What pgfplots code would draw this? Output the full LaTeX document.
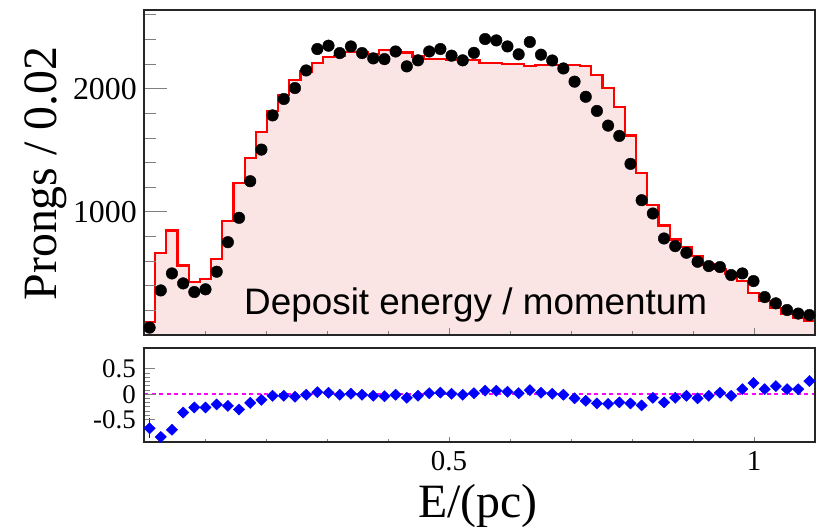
\documentclass[border=0pt]{standalone}
\usepackage{fontspec}
\setmainfont{Liberation Serif}
\newfontfamily\arialfont{Liberation Sans}
\usepackage{pgfplots}
\pgfplotsset{compat=1.18}
\usepackage{pgfplotstable}

\definecolor{histfill}{RGB}{250,228,228}
\definecolor{ratioblue}{RGB}{0,0,255}
\definecolor{zeroline}{RGB}{255,0,255}

% MC histogram: left bin edges (60 bins from 0 to 1.1) and contents
\pgfplotstableread{
x h
0.00000 105
0.01833 668
0.03667 849
0.05500 565
0.07333 430
0.09167 457
0.11000 619
0.12833 925
0.14667 1236
0.16500 1439
0.18333 1652
0.20167 1817
0.22000 1952
0.23833 2071
0.25667 2141
0.27500 2209
0.29333 2258
0.31167 2268
0.33000 2299
0.34833 2299
0.36667 2285
0.38500 2317
0.40333 2317
0.42167 2295
0.44000 2263
0.45833 2242
0.47667 2242
0.49500 2236
0.51333 2231
0.53167 2231
0.55000 2209
0.56833 2209
0.58667 2201
0.60500 2201
0.62333 2182
0.64167 2195
0.66000 2195
0.67833 2195
0.69667 2193
0.71500 2182
0.73333 2114
0.75167 2006
0.77000 1852
0.78833 1620
0.80667 1317
0.82500 1054
0.84333 890
0.86167 776
0.88000 717
0.89833 641
0.91667 573
0.93500 538
0.95333 500
0.97167 438
0.99000 338
1.00833 276
1.02667 222
1.04500 168
1.06333 135
1.08167 114
1.10000 114
}\hist

% data points and ratio at bin centres
\pgfplotstableread{
x d r
0.00917 60 -0.67
0.02750 362 -0.84
0.04583 500 -0.70
0.06417 419 -0.36
0.08250 349 -0.26
0.10083 371 -0.26
0.11917 514 -0.20
0.13750 754 -0.23
0.15583 952 -0.30
0.17417 1249 -0.17
0.19250 1506 -0.11
0.21083 1784 -0.03
0.22917 1917 -0.03
0.24750 2006 -0.05
0.26583 2149 -0.01
0.28417 2323 0.04
0.30250 2350 0.03
0.32083 2290 -0.01
0.33917 2344 0.01
0.35750 2290 -0.01
0.37583 2247 -0.03
0.39417 2241 -0.04
0.41250 2303 -0.01
0.43083 2182 -0.07
0.44917 2231 -0.03
0.46750 2303 0.02
0.48583 2323 0.03
0.50417 2269 0.01
0.52250 2231 -0.01
0.54083 2292 0.02
0.55917 2404 0.07
0.57750 2393 0.07
0.59583 2344 0.05
0.61417 2280 0.02
0.63250 2380 0.08
0.65083 2277 0.03
0.66917 2230 0.01
0.68750 2165 -0.01
0.70583 2058 -0.08
0.72417 1935 -0.13
0.74250 1820 -0.18
0.76083 1701 -0.19
0.77917 1617 -0.16
0.79750 1390 -0.18
0.81583 1095 -0.22
0.83417 987 -0.07
0.85250 784 -0.16
0.87083 722 -0.07
0.88917 668 -0.03
0.90750 595 -0.08
0.92583 560 -0.03
0.94417 552 0.03
0.96250 487 -0.03
0.98083 500 0.10
0.99917 438 0.22
1.01750 308 0.10
1.03583 257 0.16
1.05417 203 0.10
1.07250 174 0.10
1.09083 162 0.26
}\pts

\begin{document}
\begin{tikzpicture}
\useasboundingbox (0bp,0bp) rectangle (825bp,527bp);

% ---------------- upper panel ----------------
\begin{axis}[
  at={(144bp,192bp)}, anchor=south west,
  scale only axis, width=671bp, height=325bp,
  xmin=0, xmax=1.1, ymin=0, ymax=2640,
  axis on top,
  axis line style={line width=1.2bp, black!85},
  tick align=inside,
  xtick pos=bottom, ytick pos=left,
  xtick={0.5,1}, minor xtick={0.1,0.2,0.3,0.4,0.6,0.7,0.8,0.9},
  xticklabels={},
  ytick={1000,2000}, yticklabels={1000,2000},
  minor ytick={200,400,600,800,1200,1400,1600,1800,2200,2400,2600},
  major x tick style={/pgfplots/major tick length=7bp, line width=1bp},
  minor x tick style={/pgfplots/minor tick length=3.5bp, line width=1bp},
  major y tick style={/pgfplots/major tick length=23bp, line width=1bp},
  minor y tick style={/pgfplots/minor tick length=11.5bp, line width=1bp},
  /pgf/number format/assume math mode=true,
  yticklabel style={font=\fontsize{32}{32}\selectfont, inner sep=0pt, anchor=east, xshift=-7bp},
  ylabel={Prongs / 0.02},
  ylabel style={font=\fontsize{48}{48}\selectfont, at={(axis description cs:-0.1297,0.497)}, anchor=base, inner sep=0pt},
  clip=true,
]
\addplot[const plot, fill=histfill, draw=none] table[x=x, y=h] {\hist} \closedcycle;
\addplot[const plot, red, line width=2.2bp] table[x=x, y=h] {\hist};
\addplot[only marks, mark=*, mark size=5.8bp, mark options={black, fill=black}] table[x=x, y=d] {\pts};
\node[anchor=base west, inner sep=0pt, font=\arialfont\fontsize{37}{37}\selectfont] at (axis cs:0.164,168) {Deposit energy / momentum};
\end{axis}

% ---------------- lower panel ----------------
\begin{axis}[
  at={(144bp,85bp)}, anchor=south west,
  scale only axis, width=671bp, height=94bp,
  xmin=0, xmax=1.1, ymin=-0.94, ymax=0.91,
  axis on top,
  axis line style={line width=1.2bp, black!85},
  tick align=inside,
  xtick pos=bottom, ytick pos=left,
  xtick={0.5,1}, xticklabels={0.5,1},
  minor xtick={0.1,0.2,0.3,0.4,0.6,0.7,0.8,0.9},
  ytick={-0.5,0,0.5}, yticklabels={-0.5,0,0.5},
  minor y tick num=5,
  major x tick style={/pgfplots/major tick length=5bp, line width=1bp},
  minor x tick style={/pgfplots/minor tick length=3bp, line width=1bp},
  major y tick style={/pgfplots/major tick length=11bp, line width=1bp},
  minor y tick style={/pgfplots/minor tick length=5.5bp, line width=1bp},
  /pgf/number format/assume math mode=true,
  yticklabel style={font=\fontsize{27}{27}\selectfont, inner sep=0pt, anchor=east, xshift=-8bp},
  xticklabel style={font=\fontsize{29}{29}\selectfont, inner sep=0pt, anchor=north, yshift=-9bp},
  xlabel={E/(pc)},
  xlabel style={font=\fontsize{48}{48}\selectfont, at={(axis description cs:0.4978,0)}, anchor=base, inner sep=0pt, yshift=-75bp},
  clip=true,
]
\addplot[zeroline, line width=2.3bp, dash pattern=on 4bp off 3.5bp] coordinates {(0,0) (1.1,0)};
\addplot[ratioblue, line width=1.8bp, only marks, mark=none,
  error bars/.cd, y dir=both, y explicit, error bar style={line width=1.8bp, ratioblue}, error mark=none]
  coordinates {(0.00917,-0.67) +- (0,0.2)};
\addplot[only marks, mark=diamond*, mark size=5.6bp,
  mark options={ratioblue, fill=ratioblue, xscale=1.35}] table[x=x, y=r] {\pts};
\end{axis}
\end{tikzpicture}
\end{document}
